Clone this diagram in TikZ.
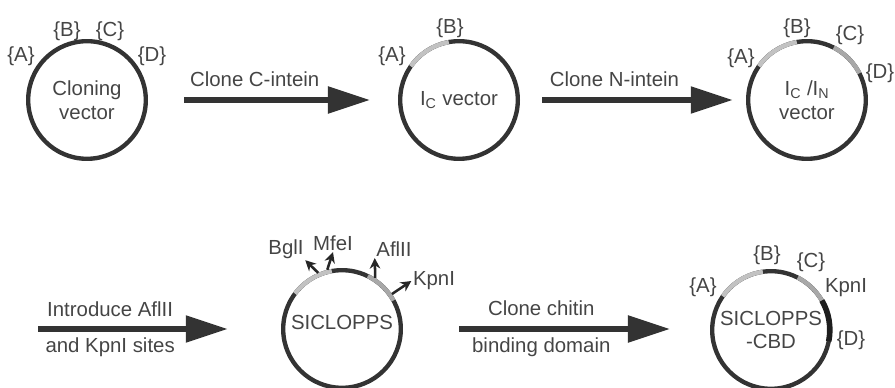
\documentclass[tikz,border=0pt]{standalone}
\usepackage{fontspec}
\setmainfont{Liberation Sans}
\usepackage{xcolor}
\usepackage{tikz}
\usetikzlibrary{arrows.meta, positioning}

\definecolor{linegray}{HTML}{333333}
\definecolor{textgray}{HTML}{454545}
\definecolor{insertlight}{HTML}{C2C2C2}
\definecolor{insertmid}{HTML}{A8A8A8}
\definecolor{cbddark}{HTML}{1E1E1E}
\newcommand{\plasr}{1.47cm}

\begin{document}
\begin{tikzpicture}[x=0.025cm, y=0.025cm, font=\fontsize{14.5}{17}\selectfont, text=textgray]
		\tikzstyle{plasmid}=[circle, draw=linegray, line width=3.1pt, minimum size=2.94cm, inner sep=0pt, align=center]
		\tikzstyle{site}=[inner sep=1pt]
		\tikzstyle{steparrow}=[draw=linegray, line width=3.8pt, -{Triangle[length=1.05cm, width=0.65cm]}]
		\tikzstyle{steplabel}=[text height=10pt, text depth=3pt, inner sep=0pt]
		\tikzstyle{lightinsert}=[draw=insertlight, line width=3.1pt]
		\tikzstyle{midinsert}=[draw=insertmid, line width=3.1pt]
		\tikzstyle{cbdinsert}=[draw=cbddark, line width=4pt]
		\tikzstyle{cutsite}=[draw=black!85, line width=1.8pt, -{Stealth[length=7.5pt, width=7.5pt]}]

		\useasboundingbox (0,0) rectangle (895,388);

		% top row
		\node[plasmid] (cv) at (87,288) {Cloning\\vector};
		\node[plasmid] (ic) at (459,288) {I\textsubscript{C} vector};
		\node[plasmid] (icn) at (807,288) {I\textsubscript{C} /I\textsubscript{N}\\vector};

		\node[site] (cvA) at ([shift={(-66,44)}]cv.center) {\{A\}};
		\node[site] (cvB) at ([shift={(-20,69)}]cv.center) {\{B\}};
		\node[site] (cvC) at ([shift={(23,69)}]cv.center) {\{C\}};
		\node[site] (cvD) at ([shift={(65,44)}]cv.center) {\{D\}};

		\draw[lightinsert] ([shift={(100:\plasr)}]ic.center) arc (100:145:\plasr);
		\node[site] (icA) at ([shift={(-67,44)}]ic.center) {\{A\}};
		\node[site] (icB) at ([shift={(-9,72)}]ic.center) {\{B\}};

		\draw[lightinsert] ([shift={(100:\plasr)}]icn.center) arc (100:145:\plasr);
		\draw[midinsert] ([shift={(27:\plasr)}]icn.center) arc (27:63:\plasr);
		\node[site] (icnA) at ([shift={(-66,42)}]icn.center) {\{A\}};
		\node[site] (icnB) at ([shift={(-10,72)}]icn.center) {\{B\}};
		\node[site] (icnC) at ([shift={(43,65)}]icn.center) {\{C\}};
		\node[site] (icnD) at ([shift={(73,27)}]icn.center) {\{D\}};

		\draw[steparrow] ([xshift=0.9cm]cv.east) -- ([xshift=-0.7cm]ic.west)
			node[steplabel, pos=0.38, yshift=0.47cm] {Clone C-intein};
		\draw[steparrow] ([xshift=0.55cm]ic.east) -- ([xshift=-0.33cm]icn.west)
			node[steplabel, pos=0.38, yshift=0.47cm] {Clone N-intein};

		% bottom row
		\node[plasmid] (sic) at (342,59) {\raisebox{0.35cm}{SICLOPPS}};
		\node[plasmid] (cbd) at (771,58) {SICLOPPS\\-CBD};

		\draw[lightinsert] ([shift={(100:\plasr)}]sic.center) arc (100:143:\plasr);
		\draw[midinsert] ([shift={(29:\plasr)}]sic.center) arc (29:64:\plasr);
		\node[site] (bgl) at ([shift={(-56,80)}]sic.center) {BglI};
		\node[site] (mfe) at ([shift={(-9,86)}]sic.center) {MfeI};
		\node[site] (afl) at ([shift={(52,80)}]sic.center) {AflII};
		\node[site] (kpn) at ([shift={(92,48)}]sic.center) {KpnI};
		\draw[cutsite] (sic.113) -- (bgl.south east);
		\draw[cutsite] (sic.104) -- (mfe.south);
		\draw[cutsite] (sic.57) -- (afl.south west);
		\draw[cutsite] (sic.35) -- (kpn.west);

		\draw[lightinsert] ([shift={(98:\plasr)}]cbd.center) arc (98:145:\plasr);
		\draw[midinsert] ([shift={(30:\plasr)}]cbd.center) arc (30:63:\plasr);
		\draw[cbdinsert] ([shift={(-11:\plasr)}]cbd.center) arc (-11:30:\plasr);
		\node[site] (cbdA) at ([shift={(-68,43)}]cbd.center) {\{A\}};
		\node[site] (cbdB) at ([shift={(-4,75)}]cbd.center) {\{B\}};
		\node[site] (cbdC) at ([shift={(40,68)}]cbd.center) {\{C\}};
		\node[site] (cbdK) at ([shift={(75,42)}]cbd.center) {KpnI};
		\node[site] (cbdD) at ([shift={(80,-10)}]cbd.center) {\{D\}};

		\coordinate (intro) at (38,59);
		\draw[steparrow] (intro) -- ([xshift=-1.33cm]sic.west)
			node[steplabel, pos=0.38, yshift=0.44cm] {Introduce AflII}
			node[steplabel, pos=0.38, yshift=-0.46cm] {and KpnI sites};
		\draw[steparrow] ([xshift=1.4cm]sic.east) -- ([xshift=-1cm]cbd.west |- sic.east)
			node[steplabel, pos=0.39, yshift=0.47cm] {Clone chitin}
			node[steplabel, pos=0.39, yshift=-0.47cm] {binding domain};
	\end{tikzpicture}
\end{document}
